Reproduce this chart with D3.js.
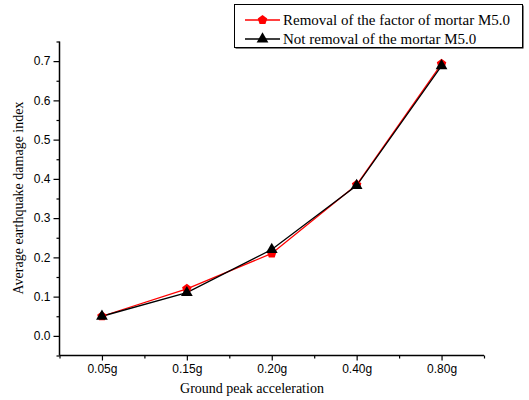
<!DOCTYPE html>
<html><head><meta charset="utf-8">
<script src="https://cdn.jsdelivr.net/npm/d3@7"></script>
<style>body{margin:0;background:#fff}svg{display:block}</style>
</head><body>
<svg id="c" width="529" height="400"></svg>
<script>
const categories = ["0.05g","0.15g","0.20g","0.40g","0.80g"];
const seriesNames = ["Removal of the factor of mortar M5.0","Not removal of the mortar M5.0"];
const removalValues = [0.05, 0.12, 0.21, 0.385, 0.693];
const notRemovalValues = [0.05, 0.11, 0.22, 0.383, 0.688];
const yTicks = [0.0,0.1,0.2,0.3,0.4,0.5,0.6,0.7];

const svg = d3.select("#c");
const x = d3.scaleLinear().domain([-0.5, 4.5]).range([59.5, 484]);
const y = d3.scaleLinear().domain([-0.05, 0.75]).range([355.5, 41.5]);

// y axis
const yMajor = d3.axisLeft(y).tickValues(yTicks).tickFormat(d3.format(".1f")).tickSize(6).tickPadding(3);
const gy = svg.append("g").attr("transform","translate(59.5,0)").call(yMajor);
gy.select(".domain").remove();
gy.selectAll("text").attr("font-family","Liberation Sans, Arial, sans-serif").attr("font-size","12px").attr("fill","#000");
gy.selectAll("line").attr("stroke","#000").attr("stroke-width",1.2);
const yMinor = d3.axisLeft(y).tickValues(d3.range(-0.05,0.76,0.1)).tickSize(3).tickFormat("");
const gym = svg.append("g").attr("transform","translate(59.5,0)").call(yMinor);
gym.select(".domain").remove();
gym.selectAll("line").attr("stroke","#000").attr("stroke-width",1.2);

// x axis
const xMajor = d3.axisBottom(x).tickValues(d3.range(0,5)).tickFormat(i=>categories[i]).tickSize(5).tickPadding(4);
const gx = svg.append("g").attr("transform","translate(0,355.5)").call(xMajor);
gx.select(".domain").remove();
gx.selectAll("text").attr("font-family","Liberation Sans, Arial, sans-serif").attr("font-size","12px").attr("fill","#000");
gx.selectAll("line").attr("stroke","#000").attr("stroke-width",1.2);
const xMinor = d3.axisBottom(x).tickValues(d3.range(-0.5,4.6,1)).tickSize(3).tickFormat("");
const gxm = svg.append("g").attr("transform","translate(0,355.5)").call(xMinor);
gxm.select(".domain").remove();
gxm.selectAll("line").attr("stroke","#000").attr("stroke-width",1.2);

// axis lines
svg.append("line").attr("x1",59.5).attr("x2",59.5).attr("y1",y(0.75)).attr("y2",y(-0.05)).attr("stroke","#000").attr("stroke-width",1.5);
svg.append("line").attr("x1",59.5).attr("x2",x(4.5)).attr("y1",355.5).attr("y2",355.5).attr("stroke","#000").attr("stroke-width",1.5);

// axis titles
svg.append("text").attr("x",252).attr("y",393).attr("text-anchor","middle")
  .attr("font-family","Liberation Serif, Times New Roman, serif").attr("font-size","14px").text("Ground peak acceleration");
svg.append("text").attr("transform","translate(23,198) rotate(-90)").attr("text-anchor","middle")
  .attr("font-family","Liberation Serif, Times New Roman, serif").attr("font-size","14px").text("Average earthquake damage index");

const line = d3.line().x((d,i)=>x(i)).y(d=>y(d));
const pent = d3.symbol().type(d3.symbolCircle).size(55);
const tri = d3.symbol().type(d3.symbolTriangle).size(60);

svg.append("path").datum(removalValues).attr("d",line).attr("fill","none").attr("stroke","#ff0000").attr("stroke-width",1.3);
svg.append("path").datum(notRemovalValues).attr("d",line).attr("fill","none").attr("stroke","#000").attr("stroke-width",1.3);

function pentagonPath(r){
  const pts=[];for(let k=0;k<5;k++){const a=-Math.PI/2+k*2*Math.PI/5;pts.push([r*Math.cos(a),r*Math.sin(a)]);}
  return "M"+pts.map(p=>p.join(",")).join("L")+"Z";
}
svg.selectAll(".mr").data(removalValues).enter().append("path")
  .attr("transform",(d,i)=>`translate(${x(i)},${y(d)})`).attr("d",pentagonPath(5)).attr("fill","#ff0000");
svg.selectAll(".mb").data(notRemovalValues).enter().append("path")
  .attr("transform",(d,i)=>`translate(${x(i)},${y(d)})`).attr("d",tri).attr("fill","#000");

// legend
const lg = svg.append("g");
lg.append("rect").attr("x",235.5).attr("y",5.5).attr("width",288).attr("height",43).attr("fill","#000");
lg.append("rect").attr("x",234.5).attr("y",4.5).attr("width",288).attr("height",43).attr("fill","#fff").attr("stroke","#000").attr("stroke-width",1);
const legY=[20,39];
const colors=["#ff0000","#000"];
legY.forEach((ly,k)=>{
  lg.append("line").attr("x1",245).attr("x2",280).attr("y1",ly).attr("y2",ly).attr("stroke",colors[k]).attr("stroke-width",1.3);
  lg.append("path").attr("transform",`translate(262.5,${ly})`).attr("d",k===0?pentagonPath(5):tri()).attr("fill",colors[k]);
  lg.append("text").attr("x",283).attr("y",ly+5).attr("font-family","Liberation Serif, Times New Roman, serif").attr("font-size","15px").text(seriesNames[k]);
});
</script>
</body></html>
